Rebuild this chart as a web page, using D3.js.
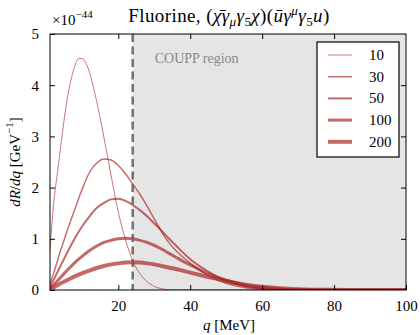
<!DOCTYPE html>
<html lang="en">
<head>
  <meta charset="UTF-8">
  <title>Fluorine spectrum</title>
  <script src="https://d3js.org/d3.v7.min.js"></script>
  <style>
    body { margin: 0; background: #fff; }
    svg, svg text { font-family: "Liberation Serif", "DejaVu Serif", serif !important; }
  </style>
</head>
<body>
  <svg width="420" height="335"></svg>
  <script>
    // q grid (MeV) and rates (units of 1e-44 GeV^-1)
    const q10 = [1, 2, 3, 4, 5, 6, 7, 8, 9, 10, 11, 12, 13, 14, 16, 18, 20, 22, 24, 26, 28, 30, 32, 34, 36, 40, 100];
    const r10 = [0.78, 1.68, 2.25, 2.82, 3.36, 3.82, 4.15, 4.40, 4.52, 4.52, 4.43, 4.25, 3.98, 3.68, 2.98, 2.23, 1.52, 0.98, 0.57, 0.32, 0.16, 0.07, 0.025, 0.005, 0, 0, 0];

    const qGrid = [1, 2, 4, 6, 8, 10, 12, 14, 16, 18, 20, 22, 24, 26, 28, 30, 32, 34, 36, 38, 40, 45, 50, 55, 60, 65, 70, 80, 90, 100];
    const r30 = [0.12, 0.33, 0.78, 1.2, 1.6, 1.98, 2.3, 2.48, 2.56, 2.54, 2.43, 2.27, 2.07, 1.87, 1.64, 1.39, 1.14, 0.93, 0.77, 0.64, 0.52, 0.28, 0.13, 0.05, 0.018, 0.006, 0.002, 0, 0, 0];
    const r50 = [0.07, 0.2, 0.48, 0.76, 1.02, 1.25, 1.44, 1.6, 1.7, 1.77, 1.78, 1.74, 1.66, 1.56, 1.44, 1.3, 1.16, 1.01, 0.87, 0.73, 0.6, 0.36, 0.18, 0.08, 0.03, 0.01, 0.003, 0, 0, 0];
    const r100 = [0.04, 0.1, 0.25, 0.4, 0.54, 0.66, 0.77, 0.86, 0.93, 0.97, 1.0, 1.01, 1.0, 0.97, 0.93, 0.87, 0.8, 0.72, 0.64, 0.56, 0.49, 0.32, 0.19, 0.1, 0.05, 0.022, 0.009, 0.001, 0, 0];
    const r200 = [0.02, 0.05, 0.13, 0.2, 0.27, 0.33, 0.38, 0.43, 0.47, 0.5, 0.52, 0.535, 0.54, 0.535, 0.52, 0.5, 0.47, 0.44, 0.41, 0.375, 0.34, 0.255, 0.175, 0.11, 0.065, 0.035, 0.017, 0.003, 0, 0];

    const masses = ["10", "30", "50", "100", "200"];
    const widths = [0.9, 1.4, 2, 3, 4];
    const xTicks = [20, 40, 60, 80, 100];
    const yTicks = [0, 1, 2, 3, 4, 5];
    const couppStart = 24;

    const series = [
      { q: q10, r: r10 },
      { q: qGrid, r: r30 },
      { q: qGrid, r: r50 },
      { q: qGrid, r: r100 },
      { q: qGrid, r: r200 }
    ].map((s, i) => ({ mass: masses[i], width: widths[i], values: s.q.map((q, j) => ({ q: q, r: s.r[j] })) }));

    const margin = { top: 34, right: 14, bottom: 45, left: 50 },
          width = 420 - margin.left - margin.right,
          height = 335 - margin.top - margin.bottom;

    const svg = d3.select("svg");
    const g = svg.append("g").attr("transform", `translate(${margin.left},${margin.top})`);

    const x = d3.scaleLinear().domain([1, 100]).range([0, width]);
    const y = d3.scaleLinear().domain([0, 5]).range([height, 0]);
    const lineColor = "#a82020";

    g.append("clipPath").attr("id", "clip")
      .append("rect").attr("width", width).attr("height", height);

    // COUPP shaded region
    g.append("rect")
      .attr("x", x(couppStart)).attr("y", 0)
      .attr("width", x(100) - x(couppStart)).attr("height", height)
      .attr("fill", "#e5e5e5");

    g.append("text")
      .attr("x", x(couppStart) + 22).attr("y", 29)
      .attr("fill", "#888").attr("font-size", 14)
      .text("COUPP region");

    const line = d3.line()
      .x(d => x(d.q))
      .y(d => y(d.r))
      .curve(d3.curveMonotoneX);

    g.append("g").attr("clip-path", "url(#clip)")
      .selectAll("path")
      .data(series)
      .join("path")
      .attr("fill", "none")
      .attr("stroke", lineColor)
      .attr("stroke-opacity", 0.68)
      .attr("stroke-width", d => d.width)
      .attr("d", d => line(d.values));

    g.append("line")
      .attr("x1", x(couppStart)).attr("x2", x(couppStart))
      .attr("y1", 0).attr("y2", height)
      .attr("stroke", "#666").attr("stroke-opacity", 0.9)
      .attr("stroke-width", 2.6)
      .attr("stroke-dasharray", "8,4.5");

    // axes, ticks pointing inward on all four sides
    const tickLen = 5;
    g.append("g").attr("transform", `translate(0,${height})`)
      .call(d3.axisBottom(x).tickValues(xTicks).tickSizeInner(-tickLen).tickSizeOuter(0).tickPadding(10))
      .call(a => a.select(".domain").remove());
    g.append("g")
      .call(d3.axisTop(x).tickValues(xTicks.slice(0, 4)).tickSizeInner(-tickLen).tickSizeOuter(0).tickFormat(""))
      .call(a => a.select(".domain").remove());
    g.append("g")
      .call(d3.axisLeft(y).tickValues(yTicks).tickFormat(d3.format("d")).tickSizeInner(-tickLen).tickSizeOuter(0).tickPadding(11))
      .call(a => a.select(".domain").remove());
    g.append("g").attr("transform", `translate(${width},0)`)
      .call(d3.axisRight(y).tickValues(yTicks.slice(1, 5)).tickSizeInner(-tickLen).tickSizeOuter(0).tickFormat(""))
      .call(a => a.select(".domain").remove());

    g.selectAll(".tick text")
      .attr("font-size", 15).attr("fill", "#000");
    g.selectAll(".tick line").attr("stroke", "#000");

    g.append("rect")
      .attr("width", width).attr("height", height)
      .attr("fill", "none").attr("stroke", "#000").attr("stroke-width", 1);

    // legend
    const lg = g.append("g").attr("transform", `translate(${267},${8})`);
    lg.append("rect")
      .attr("width", 82).attr("height", 115)
      .attr("fill", "#fff").attr("stroke", "#000").attr("stroke-width", 1.2);
    series.forEach((s, i) => {
      const yy = 13 + i * 21.7;
      lg.append("line")
        .attr("x1", 11).attr("x2", 35).attr("y1", yy).attr("y2", yy)
        .attr("stroke", lineColor).attr("stroke-opacity", 0.68)
        .attr("stroke-width", s.width);
      lg.append("text")
        .attr("x", 52).attr("y", yy + 5)
        .attr("font-size", 15)
        .text(s.mass);
    });

    // exponent label
    const ex = svg.append("text").attr("x", 52).attr("y", 25).attr("font-size", 15);
    ex.append("tspan").text("×10");
    ex.append("tspan").attr("font-size", 11).attr("dy", -7).text("−44");

    // title
    const t = svg.append("text")
      .attr("x", 229).attr("y", 22)
      .attr("text-anchor", "middle").attr("font-size", 19)
      .attr("letter-spacing", 0.4);
    const parts = [
      ["Fluorine, (", null, null],
      ["χ\u0304", "i", null], ["γ", "i", null], ["μ", "i", "sub"], ["γ", "i", null], ["5", null, "sub"], ["χ", "i", null],
      [")(", null, null],
      ["u\u0304", "i", null], ["γ", "i", null], ["μ", "i", "sup"], ["γ", "i", null], ["5", null, "sub"], ["u", "i", null],
      [")", null, null]
    ];
    let shift = 0;
    parts.forEach(([txt, it, pos]) => {
      const target = pos === "sub" ? 4 : pos === "sup" ? -7 : 0;
      const sp = t.append("tspan").text(txt)
        .attr("dy", target - shift)
        .attr("font-size", pos ? 13 : 19);
      if (it) sp.attr("font-style", "italic");
      shift = target;
    });

    // axis labels
    const xl = svg.append("text")
      .attr("x", 229).attr("y", 330)
      .attr("text-anchor", "middle").attr("font-size", 15);
    xl.append("tspan").attr("font-style", "italic").text("q");
    xl.append("tspan").text(" [MeV]");

    const yl = svg.append("text")
      .attr("transform", "translate(20,162) rotate(-90)")
      .attr("text-anchor", "middle").attr("font-size", 15);
    yl.append("tspan").attr("font-style", "italic").text("dR");
    yl.append("tspan").text("/");
    yl.append("tspan").attr("font-style", "italic").text("dq");
    yl.append("tspan").text(" [GeV");
    yl.append("tspan").attr("font-size", 11).attr("dy", -7).text("−1");
    yl.append("tspan").attr("dy", 7).text("]");
  </script>
</body>
</html>
